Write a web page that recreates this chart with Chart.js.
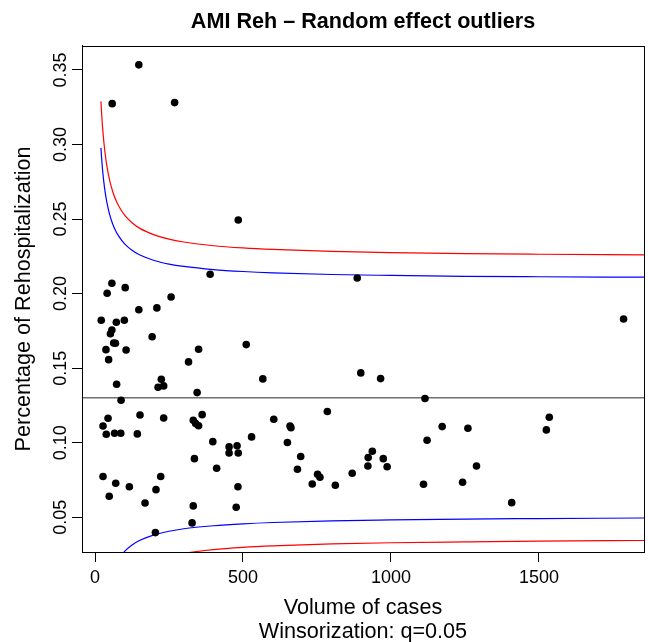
<!DOCTYPE html>
<html>
<head>
<meta charset="utf-8">
<script src="https://cdn.jsdelivr.net/npm/chart.js@4.4.1/dist/chart.umd.min.js"></script>
<style>
  html, body { margin: 0; padding: 0; background: #ffffff; }
  #c { display: block; }
</style>
</head>
<body>
<canvas id="c" width="648" height="642"></canvas>
<script>
// ---------- data ----------
const chartTitle = 'AMI Reh \u2013 Random effect outliers';
const xTitle = ['Volume of cases', 'Winsorization: q=0.05'];
const yTitle = 'Percentage of Rehospitalization';

const xTicks = [0, 500, 1000, 1500];
const yTicks = [0.05, 0.10, 0.15, 0.20, 0.25, 0.30, 0.35];
const xRange = [-44, 1855];
const yRange = [0.0267, 0.3661];

// hospitals: volume of cases and rehospitalization rate
const volume = [
  148, 58, 269, 484,
  389, 57, 102, 41, 257, 148, 209, 21, 72, 99, 57, 52, 193, 63, 69, 37, 105, 350, 511, 46, 316, 567, 73, 224, 213, 232, 345, 88,
  886, 898, 965, 1115, 1786,
  44, 27, 38, 66, 87, 152, 143, 232, 332, 340, 350, 362, 604, 398, 453, 480, 453, 484, 529, 336, 411,
  27, 222, 70, 116, 206, 48, 483, 169, 332, 477, 328, 204,
  659, 662, 785, 650, 695, 684, 734, 752, 760, 812, 869, 922, 923, 937, 974, 987, 1122, 1173, 1260, 1110, 1242,
  1535, 1525, 1289, 1408
];
const rate = [
  0.3534, 0.3274, 0.3281, 0.2494,
  0.2130, 0.2069, 0.2040, 0.2002, 0.1977, 0.1892, 0.1904, 0.1821, 0.1808, 0.1821, 0.1756, 0.1731, 0.1711, 0.1669, 0.1667, 0.1624, 0.1622, 0.1627, 0.1658, 0.1557, 0.1542, 0.1428, 0.1392, 0.1425, 0.1372, 0.1381, 0.1336, 0.1285,
  0.2105, 0.1468, 0.1430, 0.1296, 0.1830,
  0.1164, 0.1112, 0.1057, 0.1063, 0.1063, 0.1186, 0.1059, 0.1166, 0.1150, 0.1128, 0.1114, 0.1188, 0.1157, 0.1007, 0.0972, 0.0980, 0.0931, 0.0931, 0.1039, 0.0893, 0.0829,
  0.0773, 0.0773, 0.0728, 0.0705, 0.0685, 0.0641, 0.0705, 0.0596, 0.0576, 0.0567, 0.0462, 0.0397,
  0.1112, 0.1101, 0.1209, 0.1001, 0.0907, 0.0822, 0.0723, 0.0788, 0.0768, 0.0715, 0.0795, 0.0844, 0.0900, 0.0943, 0.0893, 0.0839, 0.1016, 0.1108, 0.1097, 0.0721, 0.0735,
  0.1171, 0.1086, 0.0844, 0.0598
];

// overall rate (horizontal reference line)
const centerRate = 0.1302;

// control limit curves, read at these volumes
const limitVolume = [20, 22, 25, 30, 35, 40, 50, 60, 70, 80, 100, 125, 150, 200, 250, 300, 400, 500, 600, 800, 1000, 1250, 1500, 1855];
const blueUpper = [0.2977, 0.2916, 0.2841, 0.2744, 0.2670, 0.2612, 0.2526, 0.2465, 0.2420, 0.2385, 0.2333, 0.2290, 0.2260, 0.2222, 0.2198, 0.2182, 0.2161, 0.2148, 0.2139, 0.2128, 0.2122, 0.2116, 0.2113, 0.2110];
const blueLower = [-0.0373, -0.0312, -0.0237, -0.0140, -0.0066, -0.0008, 0.0078, 0.0139, 0.0184, 0.0219, 0.0271, 0.0314, 0.0344, 0.0382, 0.0406, 0.0423, 0.0443, 0.0456, 0.0465, 0.0476, 0.0482, 0.0488, 0.0491, 0.0495];
const redUpper = [0.3289, 0.3218, 0.3128, 0.3013, 0.2926, 0.2857, 0.2755, 0.2683, 0.2629, 0.2587, 0.2526, 0.2475, 0.2439, 0.2394, 0.2365, 0.2346, 0.2321, 0.2306, 0.2296, 0.2283, 0.2275, 0.2268, 0.2264, 0.2260];
const redLower = [-0.0685, -0.0614, -0.0524, -0.0409, -0.0322, -0.0253, -0.0151, -0.0079, -0.0025, 0.0017, 0.0078, 0.0129, 0.0165, 0.0210, 0.0239, 0.0258, 0.0283, 0.0298, 0.0308, 0.0321, 0.0329, 0.0335, 0.0340, 0.0344];

// ---------- chart ----------
const FONT = "'Liberation Sans', Arial, Helvetica, sans-serif";
const pairs = (xs, ys) => xs.map((x, i) => ({x: x, y: ys[i]}));

function curve(ys, color) {
  return {
    type: 'line',
    data: pairs(limitVolume, ys),
    borderColor: color,
    borderWidth: 1.2,
    pointRadius: 0,
    fill: false,
    cubicInterpolationMode: 'monotone',
    order: 2
  };
}

const frame = {
  id: 'frame',
  afterDraw(chart) {
    const {ctx, chartArea: a, scales} = chart;
    ctx.save();
    // plot box
    ctx.strokeStyle = '#000';
    ctx.lineWidth = 1;
    ctx.strokeRect(Math.round(a.left) + 0.5, Math.round(a.top) + 0.5,
                   Math.round(a.right - a.left), Math.round(a.bottom - a.top));
    // rotated y tick labels (parallel to the axis)
    const ys = scales.y;
    ctx.fillStyle = '#000';
    ctx.font = '18px ' + FONT;
    ctx.textAlign = 'center';
    ctx.textBaseline = 'middle';
    ys.ticks.forEach(t => {
      const py = ys.getPixelForValue(t.value);
      ctx.save();
      ctx.translate(61, py);
      ctx.rotate(-Math.PI / 2);
      ctx.fillText(t.value.toFixed(2), 0, 0);
      ctx.restore();
    });
    ctx.restore();
  }
};

new Chart(document.getElementById('c'), {
  type: 'scatter',
  data: {
    datasets: [
      {
        type: 'scatter',
        data: pairs(volume, rate),
        backgroundColor: '#000',
        borderColor: '#000',
        pointRadius: 3.8,
        pointHoverRadius: 3.8,
        borderWidth: 0,
        order: 1
      },
      {
        type: 'line',
        data: [{x: xRange[0], y: centerRate}, {x: xRange[1], y: centerRate}],
        borderColor: '#707070',
        borderWidth: 1.5,
        pointRadius: 0,
        fill: false,
        order: 3
      },
      curve(redUpper, '#ff0000'),
      curve(blueUpper, '#0000ff'),
      curve(blueLower, '#0000ff'),
      curve(redLower, '#ff0000')
    ]
  },
  options: {
    responsive: false,
    animation: false,
    devicePixelRatio: 1,
    layout: { padding: { left: 0, right: 4, top: 0, bottom: 0 } },
    plugins: {
      legend: { display: false },
      tooltip: { enabled: false },
      title: {
        display: true,
        text: chartTitle,
        fullSize: false,
        color: '#000',
        font: { family: FONT, size: 21.6, weight: 'bold', lineHeight: 1.2 },
        padding: { top: 9, bottom: 11 }
      }
    },
    scales: {
      x: {
        type: 'linear',
        position: 'bottom',
        min: xRange[0],
        max: xRange[1],
        afterBuildTicks: s => { s.ticks = xTicks.map(v => ({value: v})); },
        afterFit: s => { s.height = 90; },
        grid: { display: true, drawOnChartArea: false, drawTicks: true, tickLength: 10, color: '#000', lineWidth: 1 },
        border: { display: true, color: '#000', width: 1 },
        ticks: {
          color: '#000',
          font: { family: FONT, size: 18 },
          padding: 5,
          maxRotation: 0,
          minRotation: 0,
          callback: v => String(v)
        },
        title: {
          display: true,
          text: xTitle,
          color: '#000',
          font: { family: FONT, size: 21.6, lineHeight: 1.111 },
          padding: { top: 0, bottom: -2 }
        }
      },
      y: {
        type: 'linear',
        position: 'left',
        min: yRange[0],
        max: yRange[1],
        afterBuildTicks: s => { s.ticks = yTicks.map(v => ({value: v})); },
        afterFit: s => { s.width = 82; },
        grid: { display: true, drawOnChartArea: false, drawTicks: true, tickLength: 10, color: '#000', lineWidth: 1 },
        border: { display: true, color: '#000', width: 1 },
        ticks: { display: false },
        title: {
          display: true,
          text: yTitle,
          color: '#000',
          font: { family: FONT, size: 21.6, lineHeight: 1.2 },
          padding: { top: 11, bottom: 0 }
        }
      }
    }
  },
  plugins: [frame]
});
</script>
</body>
</html>
